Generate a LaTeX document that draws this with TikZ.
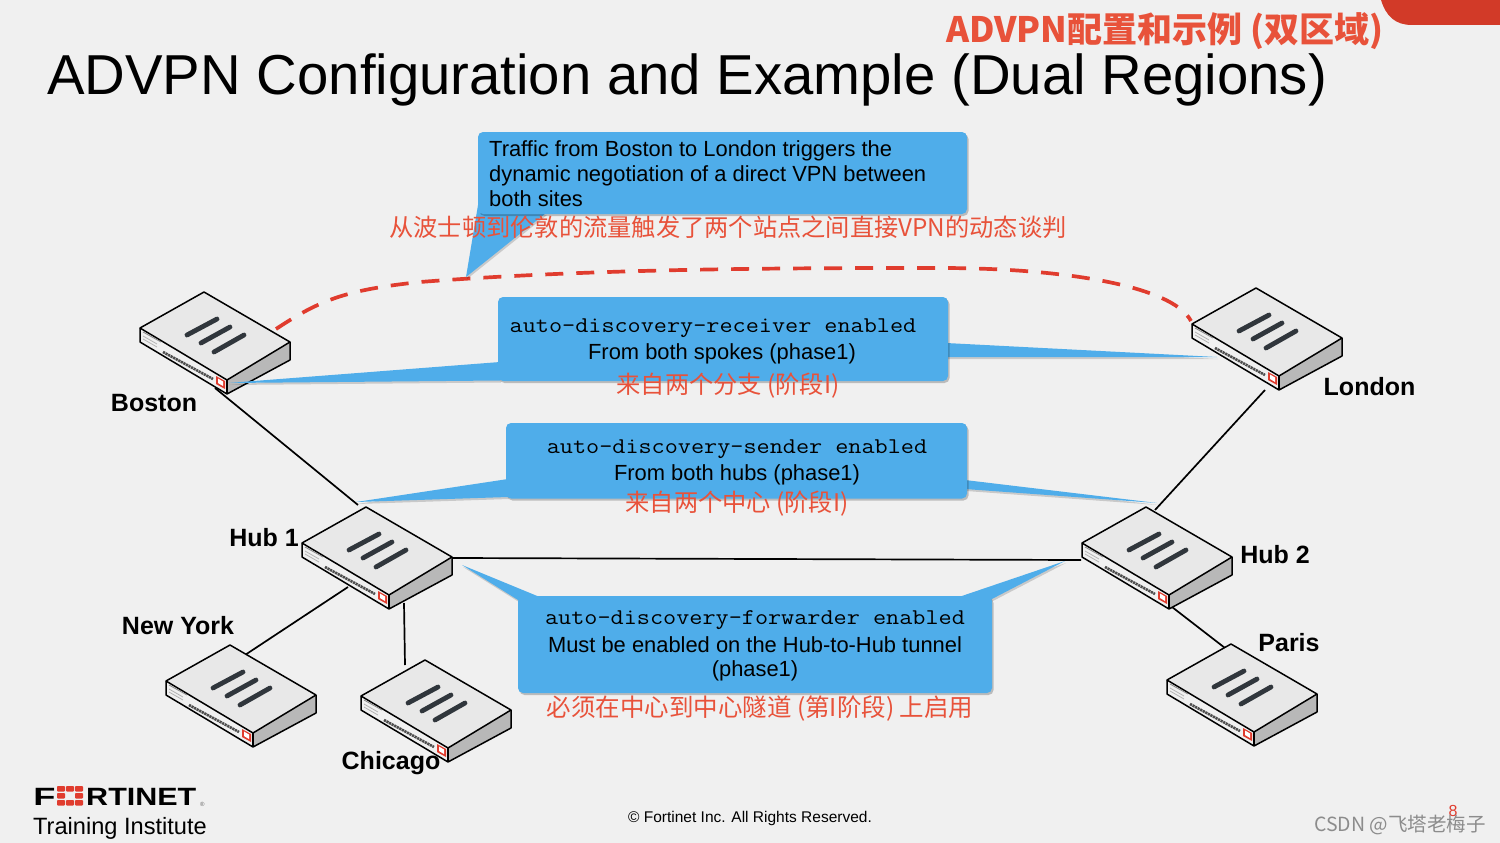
\documentclass[tikz,border=0pt]{standalone}
\usepackage{fontspec}
\setmainfont{Liberation Sans}
\newfontfamily\cjk{Noto Sans CJK SC}
\usetikzlibrary{calc,shadows}
\definecolor{bgc}{HTML}{F0F0F0}
\definecolor{callc}{HTML}{4FADEA}
\definecolor{redt}{HTML}{E8523A}
\definecolor{redb}{HTML}{D23A28}
\definecolor{redd}{HTML}{E03C2E}
\definecolor{darkbar}{HTML}{30363C}
\tikzset{
  x=1pt,y=-1pt,
  link/.style={draw=black,line width=1.7pt},
  callbox/.style={fill=callc,draw=none,rounded corners=5pt,drop shadow={shadow xshift=1.5pt,shadow yshift=-2pt,opacity=.22,fill=black}},
  calltail/.style={fill=callc,draw=none,drop shadow={shadow xshift=1pt,shadow yshift=-2pt,opacity=.16,fill=black}},
  calltxt/.style={align=center,font=\fontsize{21.9}{25}\selectfont,text=black,inner sep=0pt},
  mono/.style={font=\fontsize{22.5}{25}\ttfamily,xscale=1.132,transform shape},
  cnred/.style={font=\fontsize{24.25}{26}\cjk,text=redt,inner sep=0pt},
  devlabel/.style={font=\fontsize{25}{28}\bfseries,text=black,inner sep=0pt},
  pics/device/.style={code={
    \fill[white!91!black] (-64,36) -- (0,0) -- (86,50) -- (23,88) -- cycle;
    \fill[white!94!black] (-64,36) -- (23,88) -- (23,102) -- (-64,50) -- cycle;
    \fill[black!28] (23,88) -- (86,50) -- (86,68) -- (23,102) -- cycle;
    \draw[line width=1.5pt,line join=round] (-64,36) -- (0,0) -- (86,50) -- (86,68) -- (23,102) -- (-64,50) -- cycle;
    \draw[line width=1.5pt,line join=round] (-64,36) -- (23,88) -- (86,50);
    \draw[line width=1.2pt] (23,88) -- (23,102);
    \draw[darkbar,line width=4.8pt,line cap=round] (-17,43) -- (13,27);
    \draw[darkbar,line width=4.8pt,line cap=round] (-3,51) -- (26,35);
    \draw[darkbar,line width=4.8pt,line cap=round] (10,60) -- (40,43);
    \draw[black!70,line width=2.6pt,dash pattern=on 2.2pt off .7pt] (-41,60) -- (9,87);
    \draw[black!45,line width=.9pt] (-61,40) -- (-43,50);
    \draw[black!30,line width=.8pt] (-61,44) -- (-47,52);
    \draw[black!30,line width=.8pt] (-61,47) -- (-47,55);
    \fill[redd] (12,84) -- (21,89) -- (21,97) -- (12,92) -- cycle;
    \fill[white] (14,86.5) -- (19,89.5) -- (19,94) -- (14,91) -- cycle;
  }},
}
\begin{document}
\begin{tikzpicture}[x=1pt,y=-1pt]
\useasboundingbox (0,0) rectangle (1500,843);
\fill[bgc] (0,0) rectangle (1500,843);
% corner tab
\fill[redb] (1381,0) .. controls (1386,16) and (1395,25) .. (1412,25) -- (1500,25) -- (1500,0) -- cycle;
% title
\node[anchor=base west,inner sep=0pt,font=\fontsize{56.3}{60}\selectfont] (title) at (47,95) {ADVPN Configuration and Example (Dual Regions)};
\node[anchor=west,inner sep=0pt,font=\fontsize{35}{36}\bfseries\cjk,text=redt] (cntitle) at (946,31) {ADVPN配置和示例 (双区域)};

% device anchors and links
\coordinate (bostonEnd) at (215,388);
\coordinate (hubAIn) at (358,505);
\coordinate (londonEnd) at (1265,390);
\coordinate (hubBIn) at (1155,510);
\coordinate (hubARight) at (453,558);
\coordinate (hubBLeft) at (1081,560);
\coordinate (hubAdl) at (348,587);
\coordinate (nyUp) at (245,655);
\coordinate (hubAd) at (404,603);
\coordinate (chUp) at (405,665);
\coordinate (hubBd) at (1172,607);
\coordinate (paUp) at (1225,648);
\draw[link] (bostonEnd) -- (hubAIn);
\draw[link] (londonEnd) -- (hubBIn);
\draw[link] (hubARight) -- (hubBLeft);
\draw[link] (hubAdl) -- (nyUp);
\draw[link] (hubAd) -- (chUp);
\draw[link] (hubBd) -- (paUp);

\pic (boston) at (204,292) {device};
\pic (london) at (1256,288) {device};
\pic (huba) at (366,507) {device};
\pic (hubb) at (1146,507) {device};
\pic (ny) at (230,645) {device};
\pic (chicago) at (425,660) {device};
\pic (paris) at (1231,644) {device};

% dashed tunnel
\coordinate (dashA) at (276,329);
\coordinate (dashB) at (1191,321);
\draw[redd,line width=3.7pt,dash pattern=on 18pt off 13pt] (dashA) .. controls (320,300) and (345,290) .. (420,282) .. controls (600,268) and (800,268) .. (940,268) .. controls (1060,268) and (1172,285) .. (dashB);

% callouts
\path[calltail] (478,205) -- (466,277) -- (546,213) -- cycle;
\path[callbox] (478,132) rectangle (967,214);
\path[calltail] (500,362) -- (228,383) -- (500,380.5) -- cycle;
\path[calltail] (946,343) -- (1217,357) -- (946,357) -- cycle;
\path[callbox] (498,297) rectangle (948,381);
\path[calltail] (508,479) -- (356,502) -- (508,497) -- cycle;
\path[calltail] (965,480) -- (1157,503) -- (965,489) -- cycle;
\path[callbox] (506,423) rectangle (967,498.5);
\path[calltail] (518,600) -- (462,565) -- (547,600) -- cycle;
\path[calltail] (950,600) -- (1065,561) -- (990,600) -- cycle;
\path[callbox] (518,596) rectangle (992,693);

\node[calltxt,anchor=north west,align=left] (c1) at (489,140.5) {Traffic from Boston to London triggers the\\dynamic negotiation of a direct VPN between\\both sites};
\node[calltxt,mono] (c2a) at (713,328) {auto-discovery-receiver enabled};
\node[calltxt] (c2b) at (722,353.5) {From both spokes (phase1)};
\node[calltxt,mono] (c3a) at (737,449) {auto-discovery-sender enabled};
\node[calltxt] (c3b) at (737,474.5) {From both hubs (phase1)};
\node[calltxt,mono] (c4a) at (755,620) {auto-discovery-forwarder enabled};
\node[calltxt] (c4b) at (755,644.5) {Must be enabled on the Hub-to-Hub tunnel};
\node[calltxt] (c4c) at (755,671) {(phase1)};

\node[cnred] (r1) at (728,227) {从波士顿到伦敦的流量触发了两个站点之间直接VPN的动态谈判};
\node[cnred] (r2) at (728,385.5) {来自两个分支 (阶段I)};
\node[cnred] (r3) at (737,503.5) {来自两个中心 (阶段I)};
\node[cnred,font=\fontsize{24.5}{26}\cjk] (r4) at (760,709) {必须在中心到中心隧道 (第I阶段) 上启用};

% labels
\node[devlabel] (lb) at (154,403) {Boston};
\node[devlabel] (ll) at (1369.5,387) {London};
\node[devlabel] (l1) at (264,538) {Hub 1};
\node[devlabel] (l2) at (1275,555) {Hub 2};
\node[devlabel] (ln) at (178,626) {New York};
\node[devlabel] (lc) at (391,763) {Chicago};
\node[devlabel] (lp) at (1289,643) {Paris};

% logo
\node[anchor=base west,inner sep=0pt,font=\fontsize{25}{28}\bfseries,xscale=1.45,transform shape] (lf) at (33,805) {F};
\foreach \xx/\yy in {57/786,66/786,75/786,57/793,75/793,57/800,66/800,75/800}{
  \fill[redd,rounded corners=.8pt] (\xx,\yy) rectangle ++(8,5.5);}
\node[anchor=base west,inner sep=0pt,font=\fontsize{25}{28}\bfseries,xscale=1.22,transform shape] (lr) at (86,805) {RTINET};
\node[anchor=base west,inner sep=0pt,font=\fontsize{6}{7}\selectfont,text=black!60] (lreg) at (200,806) {®};
\node[anchor=west,inner sep=0pt,font=\fontsize{23.6}{25}\selectfont] (ti) at (33,828) {Training Institute};
% footer
\node[inner sep=0pt,font=\fontsize{15.5}{18}\selectfont] (fo) at (750,818) {© Fortinet Inc. All Rights Reserved.};
\node[inner sep=0pt,font=\fontsize{16}{18}\selectfont,text=redd] (pg) at (1453,811) {8};
\node[inner sep=0pt,anchor=east,font=\fontsize{19.5}{23}\cjk,text=black!45] (wm) at (1486,825) {CSDN @飞塔老梅子};
\end{tikzpicture}
\end{document}
